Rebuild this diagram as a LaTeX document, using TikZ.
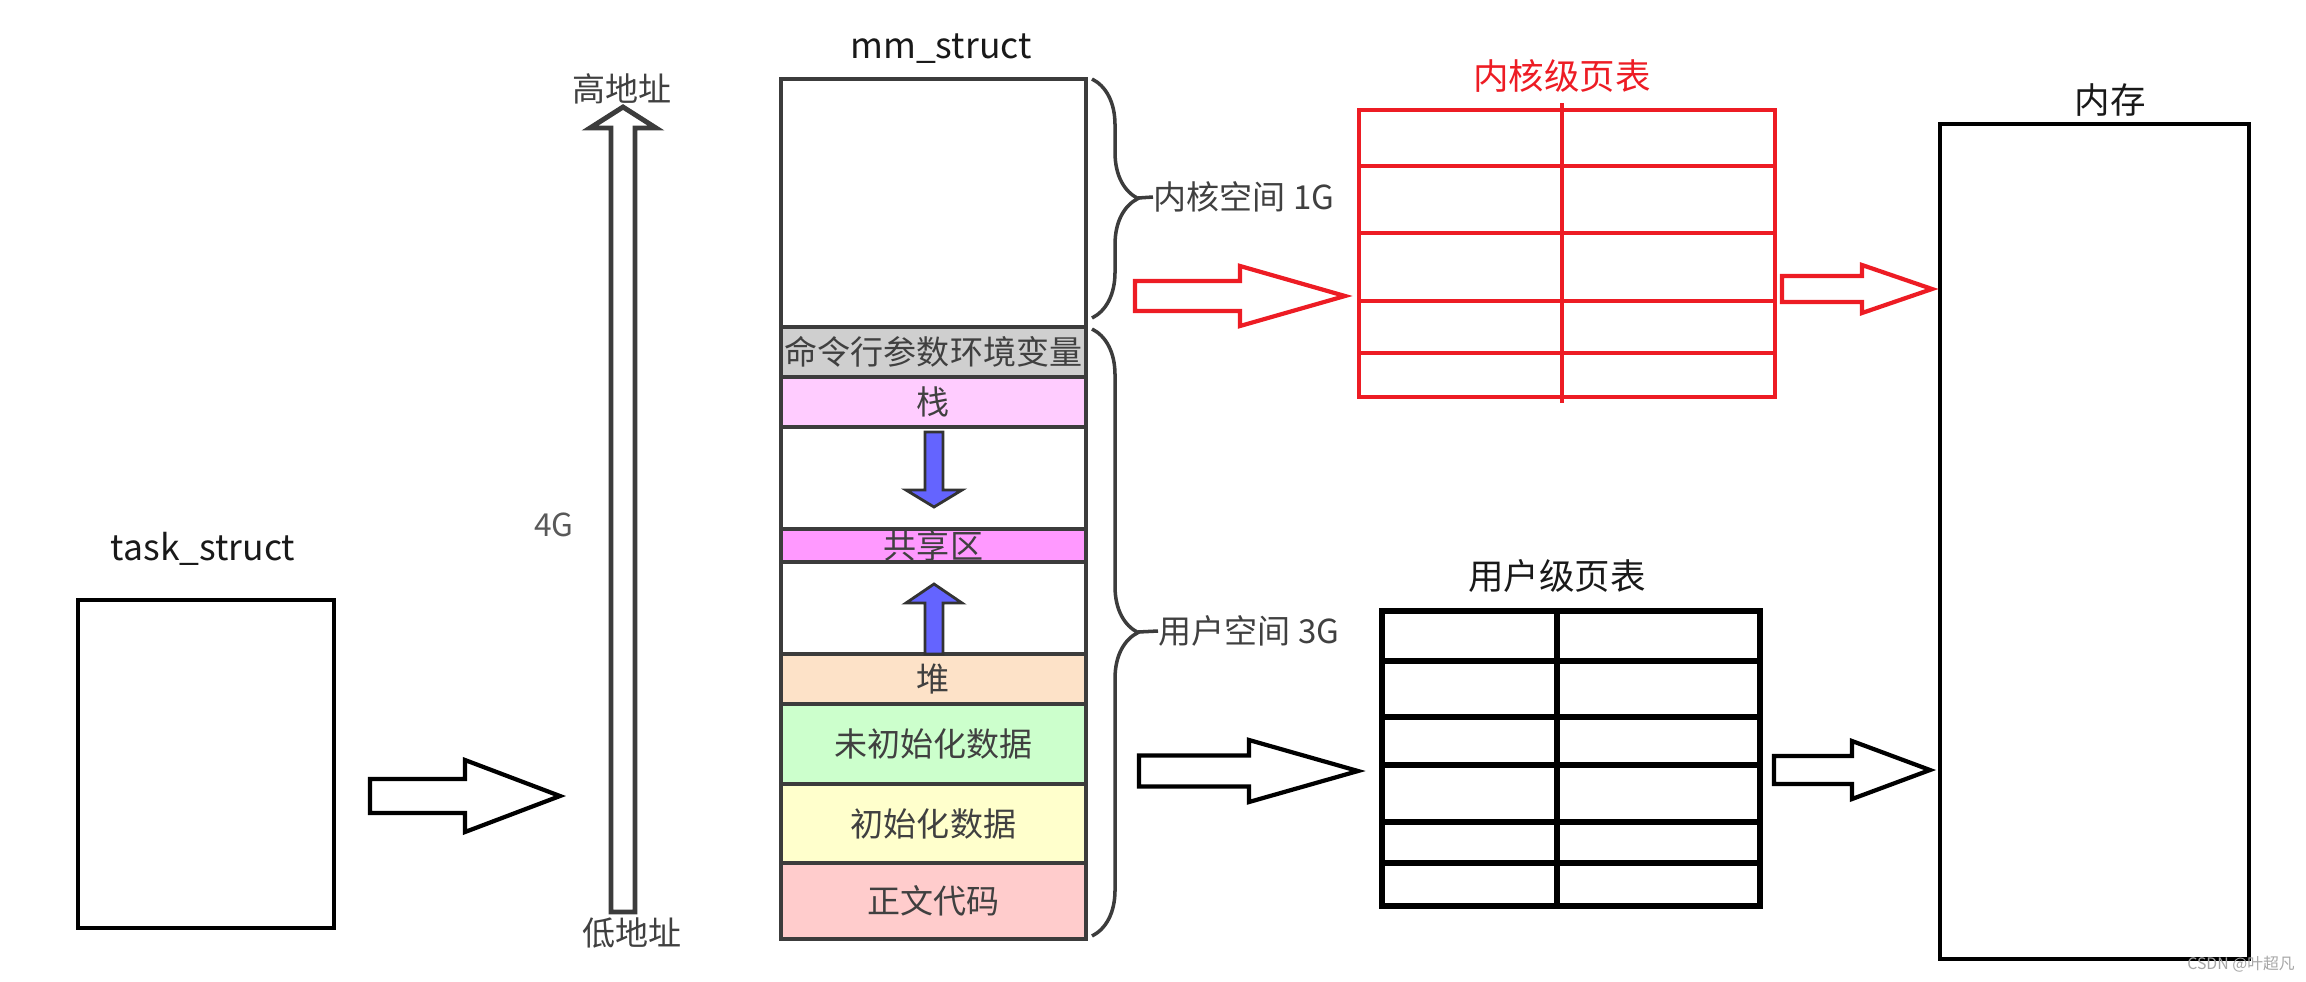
\documentclass[tikz,border=0pt]{standalone}
\usepackage{fontspec}
\setmainfont{Noto Sans CJK SC}
\usepackage{tikz}
\usetikzlibrary{calc,decorations.pathreplacing}

\definecolor{linegray}{HTML}{3C3C3C}
\definecolor{txtgray}{HTML}{404040}
\definecolor{pgred}{HTML}{ED1C24}
\definecolor{envgray}{HTML}{CFCFCF}
\definecolor{stackpink}{HTML}{FFCCFF}
\definecolor{sharedpink}{HTML}{FF99FF}
\definecolor{heapbg}{HTML}{FDE2C8}
\definecolor{bssgreen}{HTML}{CCFFCC}
\definecolor{datayellow}{HTML}{FFFFCC}
\definecolor{coderose}{HTML}{FFCCCC}
\definecolor{growblue}{HTML}{6464FF}

\newcommand{\fs}[1]{\fontsize{#1}{#1}\selectfont}
% hollow block arrow: [style]{from}{to}{shaft half}{head half}{head length}
\newcommand{\fatarrow}[6][]{%
  \draw[line width=1.2pt, line join=miter, #1] ($(#2)+(0,-#4)$) -- ($(#3)+(-#6,-#4)$) -- ($(#3)+(-#6,-#5)$)
    -- (#3) -- ($(#3)+(-#6,#5)$) -- ($(#3)+(-#6,#4)$) -- ($(#2)+(0,#4)$) -- cycle;}

\begin{document}
\begin{tikzpicture}[x=0.01cm,y=-0.01cm,
    seg/.style={draw=linegray, line width=1.1pt},
    segtext/.style={text=txtgray, font=\fs{9.4}},
    title/.style={text=black!90, font=\fs{10.1}},
    brace/.style={draw=linegray, line width=1pt, decorate, decoration={brace, amplitude=0.46cm}},
    growarrow/.style={draw=black!80, line width=0.8pt, fill=growblue, line join=miter}]

    \useasboundingbox (0,0) rectangle (2306,981);

    % task_struct
    \node[title] (tasklbl) at (203,549) {task\_struct};
    \draw[line width=1.2pt] (78,600) rectangle (334,928) node[midway] (task) {};

    % address range
    \draw[linegray, line width=1.4pt, line join=miter] (611,912) -- (611,128) -- (590,128) -- (623,107)
        -- (656,128) -- (635,128) -- (635,912) -- cycle;
    \node[segtext] (hiaddr) at (622,89) {高地址};
    \node[segtext] (loaddr) at (632,933) {低地址};
    \node[segtext, text=black!65, font=\fs{9}] (size) at (554,525) {4G};

    % mm_struct
    \node[title] (mmlbl) at (941,49) {mm\_struct};
    \draw[seg] (781,79) rectangle (1086,327) node[midway] (kernel) {};
    \draw[seg, fill=envgray] (781,327) rectangle (1086,377) node[midway, segtext] (env) {命令行参数环境变量};
    \draw[seg, fill=stackpink] (781,377) rectangle (1086,427) node[midway, segtext] (stack) {栈};
    \draw[seg] (781,427) rectangle (1086,529);
    \draw[seg, fill=sharedpink] (781,529) rectangle (1086,562) node[midway, segtext] (shared) {共享区};
    \draw[seg] (781,562) rectangle (1086,654);
    \draw[seg, fill=heapbg] (781,654) rectangle (1086,704) node[midway, segtext] (heap) {堆};
    \draw[seg, fill=bssgreen] (781,704) rectangle (1086,784) node[midway, segtext] (bss) {未初始化数据};
    \draw[seg, fill=datayellow] (781,784) rectangle (1086,863) node[midway, segtext] (data) {初始化数据};
    \draw[seg, fill=coderose] (781,863) rectangle (1086,939) node[midway, segtext] (code) {正文代码};

    \draw[growarrow] (925,432) -- (943,432) -- (943,490) -- (962,490) -- (934,507) -- (906,490) -- (925,490) -- cycle;
    \draw[growarrow] (925,654) -- (925,603) -- (906,603) -- (934,584) -- (962,603) -- (943,603) -- (943,654) -- cycle;

    % kernel / user split
    \draw[brace] (1092,79) -- (1092,318);
    \coordinate (ktip) at (1138,198);
    \node[segtext, anchor=west, inner sep=0pt] (kspace) at (1153,197) {内核空间 1G};
    \draw[linegray, line width=1pt] (ktip) -- (kspace.west);
    \draw[brace] (1092,329) -- (1092,936);
    \coordinate (utip) at (1138,632);
    \node[segtext, anchor=west, inner sep=0pt] (uspace) at (1158,631) {用户空间 3G};
    \draw[linegray, line width=1pt] (utip) -- (uspace.west);

    % page tables
    \node[title, text=pgred] (kptlbl) at (1562,76) {内核级页表};
    \draw[pgred, line width=1.3pt] (1359,110) rectangle (1775,397) node[midway] (kpt) {};
    \foreach \y in {166,233,301,353}
        \draw[pgred, line width=1.3pt] (1359,\y) -- (1775,\y);
    \draw[pgred, line width=1.3pt] (1562,103) -- (1562,403);

    \node[title] (uptlbl) at (1557,576) {用户级页表};
    \draw[line width=1.5pt] (1382,611) rectangle (1760,906) node[midway] (upt) {};
    \foreach \y in {661,717,765,822,863}
        \draw[line width=1.5pt] (1382,\y) -- (1760,\y);
    \draw[line width=1.5pt] (1557,611) -- (1557,906);

    % memory
    \node[title] (memlbl) at (2110,100) {内存};
    \draw[line width=1.3pt] (1940,124) rectangle (2249,959) node[midway] (mem) {};
    \node[text=black!35, font=\fs{4.5}] (csdn) at (2241,964) {CSDN @叶超凡};

    % arrows
    \coordinate (a1s) at (370,796);  \coordinate (a1e) at (560,796);
    \coordinate (k1s) at (1135,296); \coordinate (k1e) at (1345,296);
    \coordinate (k2s) at (1782,289); \coordinate (k2e) at (1932,289);
    \coordinate (u1s) at (1139,771); \coordinate (u1e) at (1358,771);
    \coordinate (u2s) at (1774,770); \coordinate (u2e) at (1930,770);
    \fatarrow{a1s}{a1e}{17}{36}{95}
    \fatarrow[pgred]{k1s}{k1e}{15}{30}{105}
    \fatarrow[pgred]{k2s}{k2e}{13}{24}{70}
    \fatarrow{u1s}{u1e}{15.5}{31}{109}
    \fatarrow{u2s}{u2e}{14}{29}{78}
\end{tikzpicture}
\end{document}
